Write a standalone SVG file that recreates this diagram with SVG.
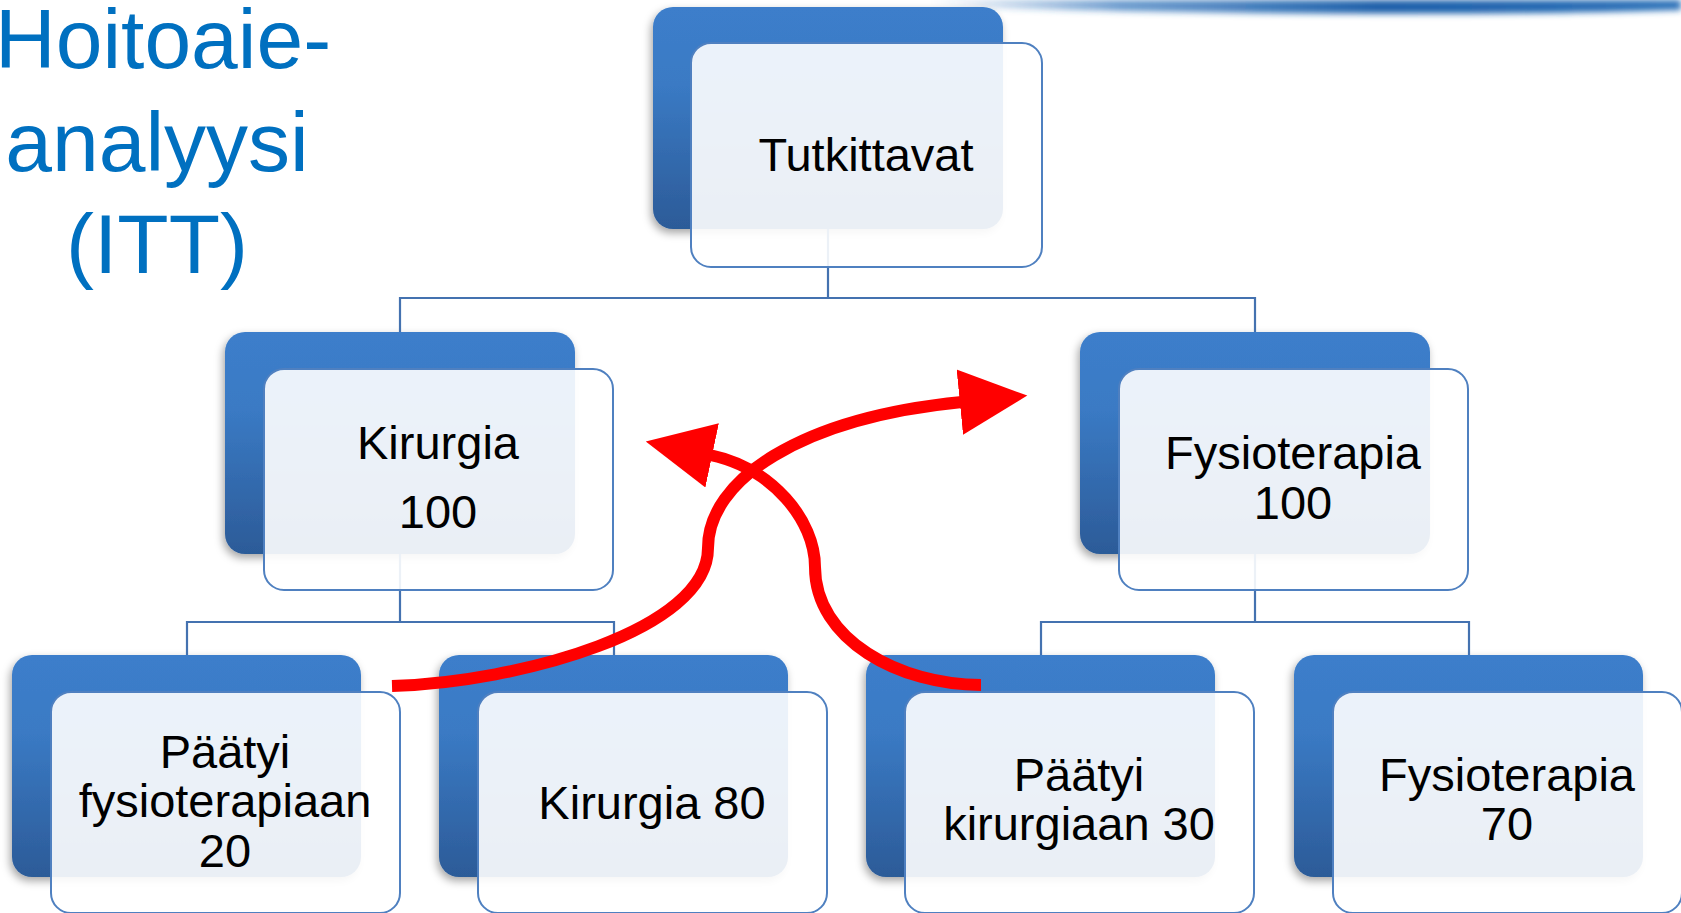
<svg xmlns="http://www.w3.org/2000/svg" width="1681" height="913" viewBox="0 0 1681 913">
<defs>
<linearGradient id="dark" x1="0" y1="0" x2="0" y2="1">
<stop offset="0" stop-color="#3c7ecb"/>
<stop offset="0.35" stop-color="#3a7ac4"/>
<stop offset="1" stop-color="#2c5b98"/>
</linearGradient>
<linearGradient id="band" x1="0" y1="0" x2="1" y2="0">
<stop offset="0" stop-color="#2a6fb8" stop-opacity="0"/>
<stop offset="0.25" stop-color="#2a6fb8" stop-opacity="0.7"/>
<stop offset="0.6" stop-color="#1b5ea9"/>
<stop offset="1" stop-color="#2a70b8"/>
</linearGradient>
<filter id="shadow" x="-10%" y="-10%" width="125%" height="130%">
<feDropShadow dx="-2" dy="4" stdDeviation="4" flood-color="#000" flood-opacity="0.35"/>
</filter>
<filter id="blur" x="-5%" y="-100%" width="110%" height="300%">
<feGaussianBlur stdDeviation="3"/>
</filter>
<marker id="ah" markerUnits="userSpaceOnUse" markerWidth="70" markerHeight="70" viewBox="0 -32 64 64" refX="2" refY="0" orient="auto">
<path d="M0,-30 L62,0 L0,30 z" fill="#ff0000"/>
</marker>
<style>
.dk{fill:url(#dark);filter:url(#shadow);}
.lt{fill:#ffffff;fill-opacity:0.9;stroke:#4f80c0;stroke-width:2;}
.cn{fill:none;stroke:#4472b0;stroke-width:2.2;}
.tx{font-family:"Liberation Sans",Arial,sans-serif;font-size:47px;fill:#000;text-anchor:middle;}
.ttl{font-family:"Liberation Sans",Arial,sans-serif;font-size:84px;fill:#0070c0;text-anchor:middle;}
.rd{fill:none;stroke:#ff0000;stroke-width:12;}
</style>
</defs>
<rect width="1681" height="913" fill="#ffffff"/>
<path d="M930,0 L1681,0 L1681,10 C1500,16 1200,14 1000,8 C970,6 945,4 930,3 Z" fill="url(#band)" filter="url(#blur)"/>
<g id="title">
<text class="ttl" x="-5" y="68" style="text-anchor:start">Hoitoaie-</text>
<text class="ttl" x="157" y="171">analyysi</text>
<text class="ttl" x="157" y="273">(ITT)</text>
</g>
<g id="darks">
<rect class="dk" x="653" y="7" width="350" height="222" rx="20"/>
<rect class="dk" x="225" y="332" width="350" height="222" rx="20"/>
<rect class="dk" x="1080" y="332" width="350" height="222" rx="20"/>
<rect class="dk" x="12" y="655" width="349" height="222" rx="20"/>
<rect class="dk" x="439" y="655" width="349" height="222" rx="20"/>
<rect class="dk" x="866" y="655" width="349" height="222" rx="20"/>
<rect class="dk" x="1294" y="655" width="349" height="222" rx="20"/>
</g>
<g id="connectors">
<path class="cn" d="M828,229 V298 M400,332 V298 H1255 V332"/>
<path class="cn" d="M400,554 V622 M187,655 V622 H614 V655"/>
<path class="cn" d="M1255,554 V622 M1041,655 V622 H1469 V655"/>
</g>
<g id="n-tutkittavat">
<rect class="lt" x="691" y="43" width="351" height="224" rx="20"/>
<text class="tx" x="866" y="171">Tutkittavat</text>
</g>
<g id="n-kirurgia">
<rect class="lt" x="264" y="369" width="349" height="221" rx="20"/>
<text class="tx" x="438" y="459">Kirurgia</text>
<text class="tx" x="438" y="528">100</text>
</g>
<g id="n-fysioterapia">
<rect class="lt" x="1119" y="369" width="349" height="221" rx="20"/>
<text class="tx" x="1293" y="469">Fysioterapia</text>
<text class="tx" x="1293" y="519">100</text>
</g>
<g id="n-paatyi-fysio">
<rect class="lt" x="51" y="692" width="349" height="221" rx="20"/>
<text class="tx" x="225" y="768">Päätyi</text>
<text class="tx" x="225" y="817">fysioterapiaan</text>
<text class="tx" x="225" y="867">20</text>
</g>
<g id="n-kirurgia80">
<rect class="lt" x="478" y="692" width="349" height="221" rx="20"/>
<text class="tx" x="652" y="819">Kirurgia 80</text>
</g>
<g id="n-paatyi-kir">
<rect class="lt" x="905" y="692" width="349" height="221" rx="20"/>
<text class="tx" x="1079" y="791">Päätyi</text>
<text class="tx" x="1079" y="840">kirurgiaan 30</text>
</g>
<g id="n-fysio70">
<rect class="lt" x="1333" y="692" width="349" height="221" rx="20"/>
<text class="tx" x="1507" y="791">Fysioterapia</text>
<text class="tx" x="1507" y="840">70</text>
</g>
<g id="red-arrows">
<path class="rd" d="M392,686 C520,682 708,630 708,548 C708,480 800,418 962,402" marker-end="url(#ah)"/>
<path class="rd" d="M981,685 C900,685 815,640 815,567 C815,520 772,468 710,455" marker-end="url(#ah)"/>
</g>
</svg>
